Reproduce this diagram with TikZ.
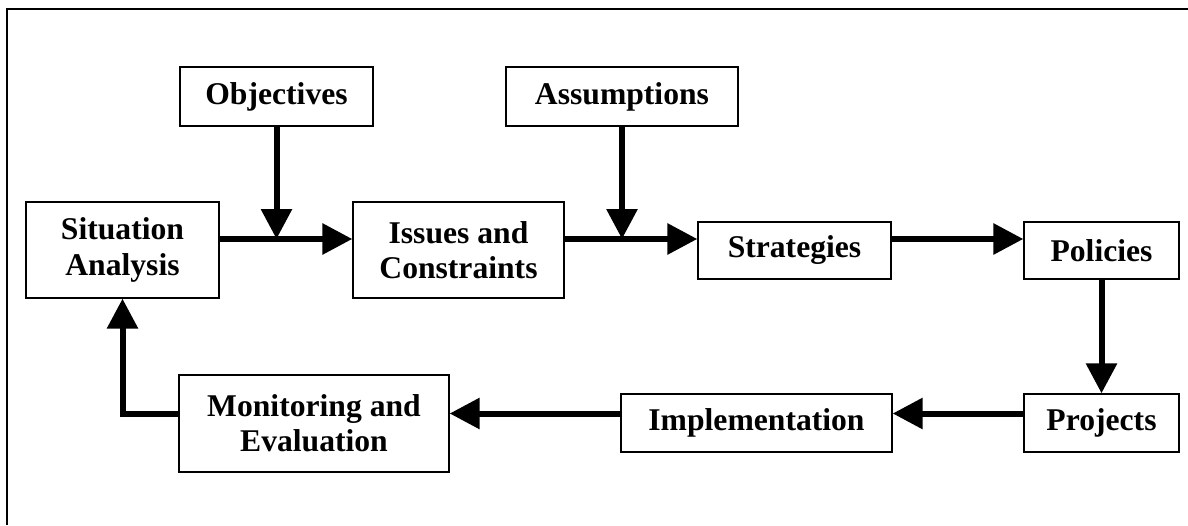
\documentclass[tikz,border=0pt]{standalone}
\usepackage{fontspec}
\setmainfont{Liberation Serif}
\usetikzlibrary{arrows.meta}

\tikzset{
  stage/.style={draw, line width=0.75pt, inner sep=0pt, align=center,
    font=\fontsize{18}{20}\selectfont\bfseries},
  flow/.style={line width=0.12cm, -{Triangle[length=0.6cm,width=0.6cm]}},
}

\begin{document}
\begin{tikzpicture}
    \useasboundingbox (0,0) rectangle (23.76,10.5);
    % outer frame (only top and left edges show)
    \draw[line width=0.04cm] (0.14,0) -- (0.14,10.31) -- (23.76,10.31);

    % inputs
    \node[stage, minimum width=3.86cm, minimum height=1.18cm] (obj) at (5.53,8.57) {Objectives};
    \node[stage, minimum width=4.64cm, minimum height=1.18cm] (asm) at (12.44,8.57) {Assumptions};

    % upper row
    \node[stage, minimum width=3.86cm, minimum height=1.92cm] (sit) at (2.45,5.5) {Situation\\Analysis};
    \node[stage, minimum width=4.22cm, minimum height=1.92cm] (iss) at (9.17,5.5) {Issues and\\Constraints};
    \node[stage, minimum width=3.86cm, minimum height=1.14cm] (str) at (15.89,5.49) {Strategies};
    \node[stage, minimum width=3.1cm, minimum height=1.14cm] (pol) at (22.03,5.49) {Policies};

    % lower row
    \node[stage, minimum width=3.1cm, minimum height=1.16cm] (prj) at (22.03,2.04) {Projects};
    \node[stage, minimum width=5.42cm, minimum height=1.16cm] (imp) at (15.13,2.04) {Implementation};
    \node[stage, minimum width=5.4cm, minimum height=1.94cm] (mon) at (6.28,2.03) {Monitoring and\\Evaluation};

    \coordinate (r1) at (0,5.72);
    \coordinate (r2) at (0,2.23);

    \draw[flow] (sit.east |- r1) -- (iss.west |- r1);
    \draw[flow] (obj.south) -- (obj.south |- r1);
    \draw[flow] (iss.east |- r1) -- (str.west |- r1);
    \draw[flow] (asm.south) -- (asm.south |- r1);
    \draw[flow] (str.east |- r1) -- (pol.west |- r1);
    \draw[flow] (pol.south) -- (prj.north);
    \draw[flow] (prj.west |- r2) -- (imp.east |- r2);
    \draw[flow] (imp.west |- r2) -- (mon.east |- r2);
    \draw[flow] (mon.west |- r2) -| (sit.south);
\end{tikzpicture}
\end{document}
